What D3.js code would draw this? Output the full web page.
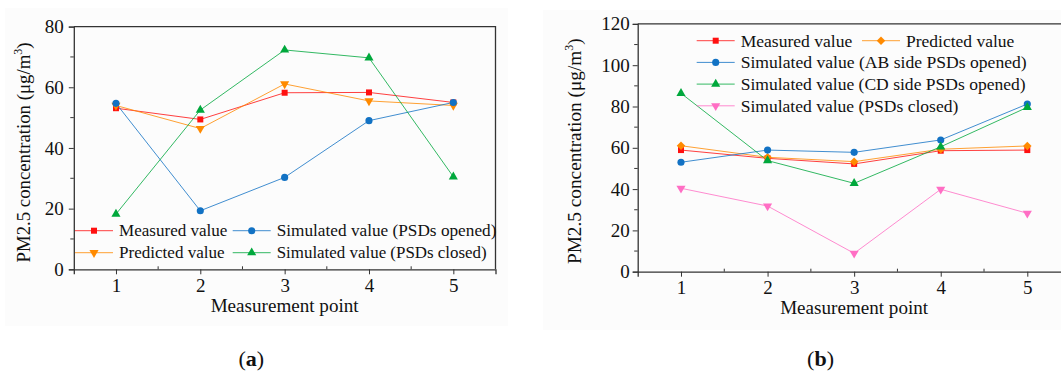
<!DOCTYPE html>
<html><head><meta charset="utf-8">
<script src="https://cdn.jsdelivr.net/npm/d3@7"></script>
<style>
html,body{margin:0;padding:0;background:#fff;}
svg text{font-family:"Liberation Serif","Times New Roman",serif;fill:#111;}
</style></head>
<body>
<svg id="chart" width="1061" height="372"></svg>
<script>
// ---------- data ----------
const points = [1, 2, 3, 4, 5];
const yTicksA = [0, 20, 40, 60, 80];
const yTicksB = [0, 20, 40, 60, 80, 100, 120];

const aMeasured  = [53.1, 49.4, 58.2, 58.3, 55.0];
const aPredicted = [54.0, 46.4, 61.1, 55.5, 54.0];
const aSimOpened = [54.7, 19.3, 30.3, 49.0, 55.0];
const aSimClosed = [18.2, 52.5, 72.3, 69.7, 30.5];

const bMeasured  = [58.9, 54.9, 52.2, 58.6, 58.9];
const bPredicted = [61.0, 55.4, 53.3, 59.3, 60.9];
const bSimAB     = [53.0, 58.9, 57.8, 63.8, 81.2];
const bSimCD     = [86.4, 53.8, 42.8, 60.5, 79.6];
const bSimClosed = [40.4, 31.8, 8.9, 39.9, 28.3];

const xTitle = "Measurement point";
const yTitle = "PM2.5 concentration (μg/m";

// ---------- styles ----------
const RED = "#ff1010", ORANGE = "#ff8a00", BLUE = "#1272c4", GREEN = "#00a83c", PINK = "#ff6ec4";
const FS_TICK = 19;

const svg = d3.select("#chart");

function drawPanel(cfg) {
  const g = svg.append("g");
  g.append("rect").attr("x", cfg.bg[0]).attr("y", cfg.bg[1])
    .attr("width", cfg.bg[2]).attr("height", cfg.bg[3]).attr("fill", "#fcfcfc");

  const x = d3.scaleLinear().domain([0.5, 5.5]).range([cfg.x0, cfg.x1]);
  const y = d3.scaleLinear().domain([0, cfg.yMax]).range([cfg.y1, cfg.y0]);

  g.append("path")
    .attr("d", `M${cfg.x0},${cfg.y0}H${cfg.x1}V${cfg.y1}`)
    .attr("fill", "none").attr("stroke", "#333").attr("stroke-width", 1.3);

  const minorX = d3.range(1.5, 5.5, 1);
  g.selectAll(".mx").data(minorX).join("line")
    .attr("x1", d => x(d)).attr("x2", d => x(d))
    .attr("y1", cfg.y1).attr("y2", cfg.y1 - 3)
    .attr("stroke", "#333").attr("stroke-width", 1);
  const minorY = d3.range(10, cfg.yMax, 20);
  g.selectAll(".my").data(minorY).join("line")
    .attr("x1", cfg.x0 - 3.5).attr("x2", cfg.x0)
    .attr("y1", d => y(d)).attr("y2", d => y(d))
    .attr("stroke", "#333").attr("stroke-width", 1);

  const xAxis = g.append("g").attr("transform", `translate(0,${cfg.y1})`)
    .call(d3.axisBottom(x).tickValues(points).tickFormat(d3.format("d")).tickSize(5).tickPadding(4));
  const yAxis = g.append("g").attr("transform", `translate(${cfg.x0},0)`)
    .call(d3.axisLeft(y).tickValues(cfg.yTicks).tickFormat(d3.format("d")).tickSize(5).tickPadding(cfg.yPad));
  [xAxis, yAxis].forEach(a => {
    a.attr("font-size", null).attr("font-family", null);
    a.select(".domain").attr("stroke", "#333").attr("stroke-width", 1.3);
    a.selectAll(".tick line").attr("stroke", "#333").attr("stroke-width", 1);
    a.selectAll(".tick text").style("font-size", FS_TICK + "px").attr("fill", "#111");
  });

  g.append("text").attr("x", x(3)).attr("y", cfg.y1 + 42.4)
    .attr("text-anchor", "middle").style("font-size", "19.2px")
    .attr("textLength", 148).attr("lengthAdjust", "spacingAndGlyphs").text(xTitle);
  const yt = g.append("text")
    .attr("transform", `translate(${cfg.yTitleX},${cfg.yTitleY}) rotate(-90)`)
    .attr("text-anchor", "middle").style("font-size", cfg.yTitleFS + "px");
  yt.append("tspan").text(yTitle);
  yt.append("tspan").style("font-size", "12px").attr("dy", -8).text("3");
  yt.append("tspan").attr("dy", 8).text(")");

  const pl = g.append("text").attr("x", cfg.label[0]).attr("y", cfg.label[1])
    .attr("text-anchor", "middle").style("font-size", "22px");
  pl.append("tspan").text("(");
  pl.append("tspan").attr("font-weight", "bold").text(cfg.labelText);
  pl.append("tspan").text(")");

  const line = d3.line().x((d, i) => x(points[i])).y(d => y(d));

  cfg.series.forEach(s => {
    g.append("path").datum(s.values).attr("d", line)
      .attr("fill", "none").attr("stroke", s.color).attr("stroke-width", 1).attr("stroke-opacity", 0.8);
  });
  cfg.series.forEach(s => {
    const sym = d3.symbol().type(s.sym).size(s.size)();
    g.selectAll(null).data(s.values).join("path")
      .attr("d", sym)
      .attr("transform", (d, i) => `translate(${x(points[i])},${y(d)})${s.rot ? ` rotate(${s.rot})` : ""}`)
      .attr("fill", s.color);
  });

  cfg.series.forEach(s => {
    const [lx, ly, tw] = s.leg;
    g.append("line").attr("x1", lx).attr("x2", lx + 38).attr("y1", ly).attr("y2", ly)
      .attr("stroke", s.color).attr("stroke-width", 1).attr("stroke-opacity", 0.8);
    g.append("path").attr("d", d3.symbol().type(s.sym).size(s.size)())
      .attr("transform", `translate(${lx + 19},${ly})${s.rot ? ` rotate(${s.rot})` : ""}`)
      .attr("fill", s.color);
    g.append("text").attr("x", lx + 44).attr("y", ly).attr("dy", "0.34em")
      .style("font-size", cfg.legFS + "px")
      .attr("textLength", tw).attr("lengthAdjust", "spacingAndGlyphs").text(s.name);
  });
}

drawPanel({
  bg: [5, 8, 503, 318],
  x0: 73.8, x1: 495.5, y0: 26.6, y1: 269.3, yMax: 80, yTicks: yTicksA, yPad: 5,
  yTitleX: 30, yTitleY: 152.5, yTitleFS: 18.8, legFS: 17,
  label: [251.3, 366], labelText: "a",
  series: [
    {name: "Measured value", values: aMeasured, color: RED, sym: d3.symbolSquare, size: 36, leg: [75, 230.7, 108.4]},
    {name: "Predicted value", values: aPredicted, color: ORANGE, sym: d3.symbolTriangle, size: 36, rot: 180, leg: [75, 252.7, 105.7]},
    {name: "Simulated value (PSDs opened)", values: aSimOpened, color: BLUE, sym: d3.symbolCircle, size: 40, leg: [232.7, 230.7, 219.7]},
    {name: "Simulated value (PSDs closed)", values: aSimClosed, color: GREEN, sym: d3.symbolTriangle, size: 36, leg: [232.7, 252.7, 210]}
  ]
});

drawPanel({
  bg: [543, 10, 518, 320],
  x0: 637.7, x1: 1070.6, y0: 23.9, y1: 271.7, yMax: 120, yTicks: yTicksB, yPad: 3,
  yTitleX: 581.4, yTitleY: 151.2, yTitleFS: 19.3, legFS: 17.5,
  label: [820.5, 366], labelText: "b",
  series: [
    {name: "Measured value", values: bMeasured, color: RED, sym: d3.symbolSquare, size: 36, leg: [696.7, 40.7, 111.6]},
    {name: "Predicted value", values: bPredicted, color: ORANGE, sym: d3.symbolSquare, size: 36, rot: 45, leg: [862, 40.7, 108.3]},
    {name: "Simulated value (AB side PSDs opened)", values: bSimAB, color: BLUE, sym: d3.symbolCircle, size: 40, leg: [696.7, 62.4, 286]},
    {name: "Simulated value (CD side PSDs opened)", values: bSimCD, color: GREEN, sym: d3.symbolTriangle, size: 36, leg: [696.7, 84.1, 285]},
    {name: "Simulated value (PSDs closed)", values: bSimClosed, color: PINK, sym: d3.symbolTriangle, size: 36, rot: 180, leg: [696.7, 105.8, 217.6]}
  ]
});
</script>
</body></html>
